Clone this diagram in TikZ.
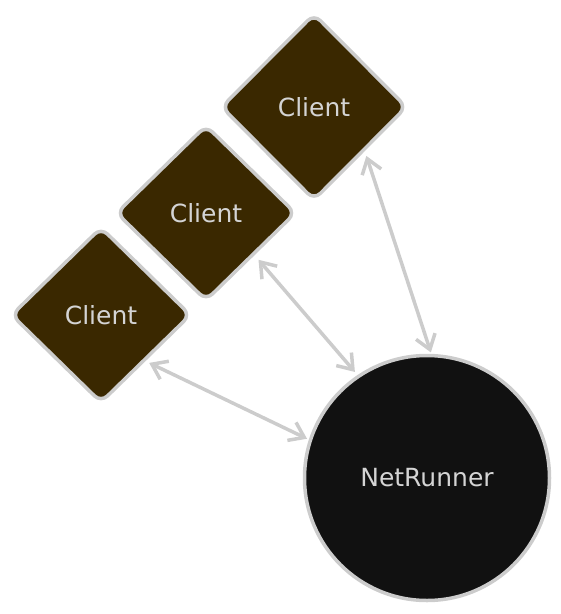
\documentclass[tikz,border=0pt]{standalone}
\usepackage{fontspec}
\setmainfont{DejaVu Sans}
\usetikzlibrary{arrows.meta, shapes.geometric}
\definecolor{clientfill}{HTML}{3A2800}
\definecolor{runnerfill}{HTML}{111111}
\definecolor{edgegray}{HTML}{CCCCCC}
\definecolor{labelgray}{HTML}{D4D4D4}

\begin{document}
\begin{tikzpicture}[x=1pt, y=-1pt,
  every node/.style={font=\fontsize{25}{29}\selectfont, text=labelgray},
  client/.style={diamond, draw=edgegray, line width=3.5pt, fill=clientfill, rounded corners=9pt, minimum width=180pt, minimum height=176pt, inner sep=0pt},
  runner/.style={circle, draw=edgegray, line width=3.5pt, fill=runnerfill, minimum size=245pt},
  link/.style={draw=edgegray, line width=3.5pt, line cap=round, {Straight Barb[length=14pt,width=20pt]}-{Straight Barb[length=14pt,width=20pt]}}]
        \useasboundingbox (0,0) rectangle (561,614);
        % Clients and the server
        \node[client] (clientA) at (101,315) {Client};
        \node[client] (clientB) at (206,213) {Client};
        \node[client, minimum width=186pt, minimum height=187pt] (clientC) at (314,107) {Client};
        \node[runner] (netrunner) at (427,478) {NetRunner};
        % Links
        \draw[link, shorten <=4pt, shorten >=2pt] (clientA.-46) -- (netrunner.162.7);
        \draw[link, shorten <=6pt, shorten >=4pt] (clientB.-41) -- (netrunner.124.3);
        \draw[link, shorten <=5pt, shorten >=1.5pt] (clientC.-41) -- (netrunner.88.2);
    \end{tikzpicture}
\end{document}
